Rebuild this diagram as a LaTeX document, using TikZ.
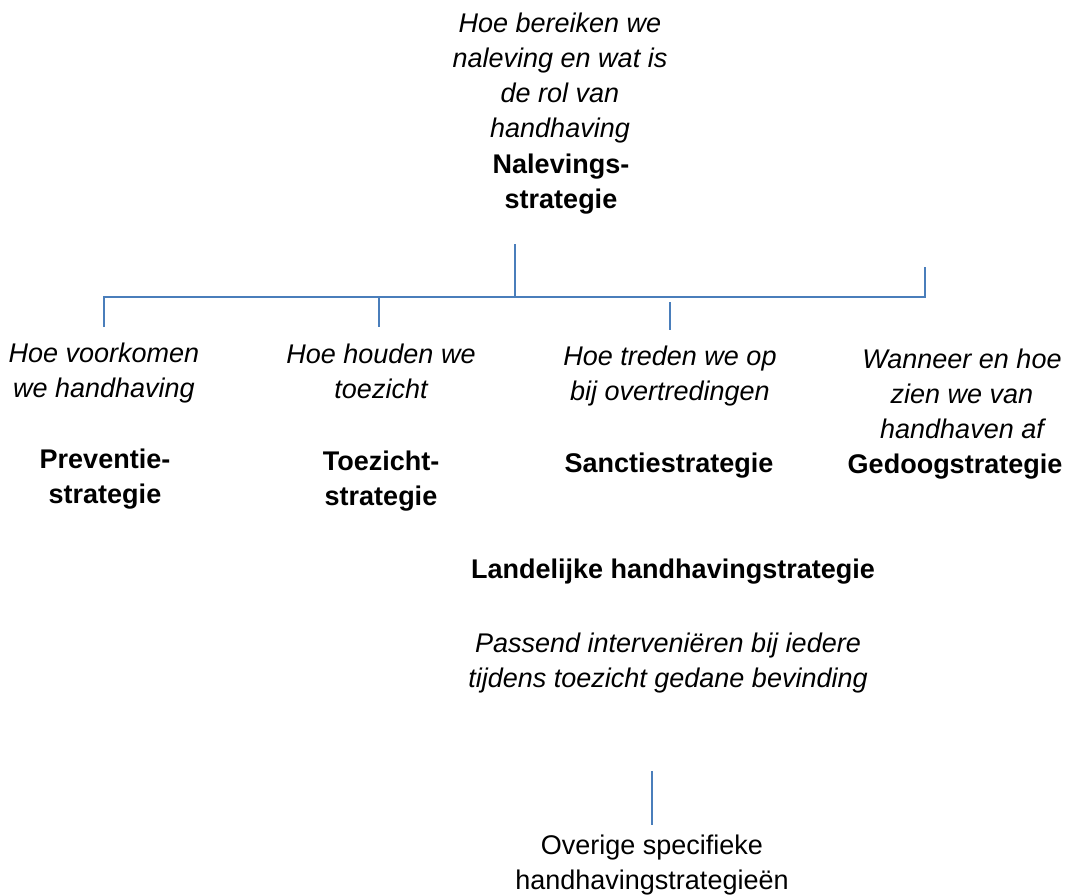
\documentclass[tikz,border=0pt]{standalone}
\usepackage{fontspec}
\setmainfont{Liberation Sans}
\usetikzlibrary{positioning}

\begin{document}
\begin{tikzpicture}[x=0.5pt,y=-0.5pt]
	\definecolor{linkblue}{RGB}{74,126,187}
	\tikzstyle{every node}=[inner sep=0pt,align=center,anchor=base,font=\fontsize{13.5}{17.5}\selectfont]
	\tikzstyle{question}=[font=\fontsize{13.5}{17.5}\selectfont\itshape]
	\tikzstyle{strategy}=[font=\fontsize{13.5}{17.5}\selectfont\bfseries]
	\tikzstyle{link}=[draw=linkblue,line width=1pt]

	\useasboundingbox (0,0) rectangle (1071,895);

	% top of the tree (base = last line)
	\node[question] (whyQ) at (560,137) {Hoe bereiken we\\naleving en wat is\\de rol van\\handhaving};
	\node[strategy] (naleving) at (561,208) {Nalevings-\\strategie};

	% the four branches
	\node[question] (prevQ) at (104,397) {Hoe voorkomen\\we handhaving};
	\node[strategy] (preventie) at (105,503) {Preventie-\\strategie};
	\node[question] (toezQ) at (381,398) {Hoe houden we\\toezicht};
	\node[strategy] (toezicht) at (381,505) {Toezicht-\\strategie};
	\node[question] (sanctQ) at (670,400) {Hoe treden we op\\bij overtredingen};
	\node[strategy] (sanctie) at (669,472) {Sanctiestrategie};
	\node[question] (gedoogQ) at (962,438) {Wanneer en hoe\\zien we van\\handhaven af};
	\node[strategy] (gedoog) at (955,473) {Gedoogstrategie};

	% national strategy
	\node[strategy] (landelijk) at (673,578) {Landelijke handhavingstrategie};
	\node[question] (passend) at (668,687) {Passend interveniëren bij iedere\\tijdens toezicht gedane bevinding};
	\node (overig) at (652,889) {Overige specifieke\\handhavingstrategieën};

	% bracket
	\coordinate (stemTop) at (515,244);
	\coordinate (hub) at (515,297);
	\coordinate (barL) at (104,297);
	\coordinate (barR) at (925,297);
	\coordinate (rightTop) at (925,267);
	\coordinate (dropA) at (104,327);
	\coordinate (barB) at (379,297);
	\coordinate (dropB) at (379,327);
	\coordinate (tickTop) at (670,302);
	\coordinate (tickBot) at (670,330);
	\coordinate (lowTop) at (652,771);
	\coordinate (lowBot) at (652,825);

	\draw[link] (stemTop) -- (hub);
	\draw[link] (dropA) -- (barL) -- (barR) -- (rightTop);
	\draw[link] (barB) -- (dropB);
	\draw[link] (tickTop) -- (tickBot);
	\draw[link] (lowTop) -- (lowBot);
\end{tikzpicture}
\end{document}
